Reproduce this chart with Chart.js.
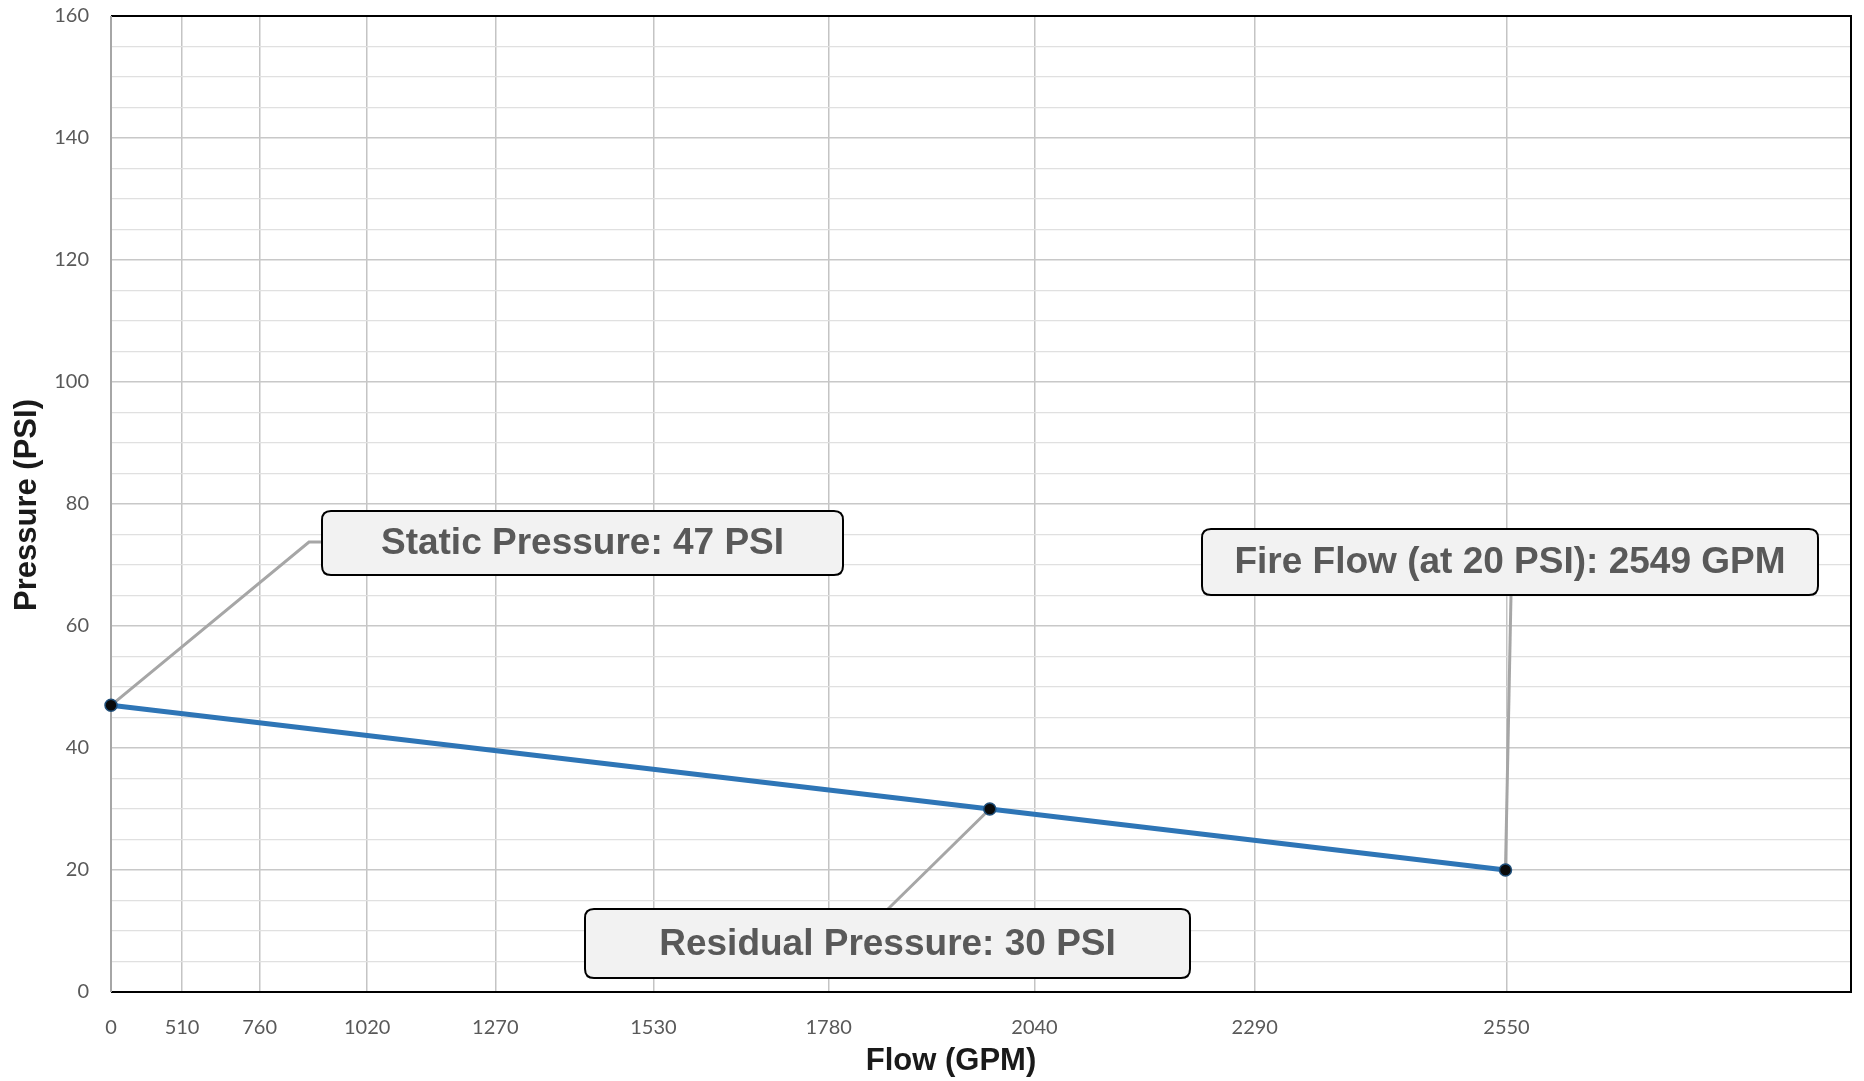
<!DOCTYPE html>
<html>
<head>
<meta charset="utf-8">
<script src="https://cdn.jsdelivr.net/npm/chart.js@4"></script>
<style>
    html, body { margin: 0; padding: 0; background: #ffffff; }
    #wrap { width: 1864px; height: 1081px; }
</style>
</head>
<body>
<div id="wrap"><canvas id="flowChart" width="1864" height="1081"></canvas></div>
<script>
// test data (flow in GPM, pressure in PSI)
const flowValues = [0, 1986, 2549];
const pressureValues = [47, 30, 20];
const flowTicks = [0, 510, 760, 1020, 1270, 1530, 1780, 2040, 2290, 2550];
const flowMax = 2873;
const pressureTicks = [0, 20, 40, 60, 80, 100, 120, 140, 160];

const callouts = [
    { text: "Static Pressure: 47 PSI", point: 0, box: [322, 511, 843, 575], path: [[309, 542], [322, 542]] },
    { text: "Residual Pressure: 30 PSI", point: 1, box: [585, 909, 1190, 978], path: [[888, 909]] },
    { text: "Fire Flow (at 20 PSI): 2549 GPM", point: 2, box: [1202, 529, 1818, 595], path: [[1511, 595]] }
];

// hydrant flow test paper: x axis is spaced by Q^1.85
class PowerScale extends Chart.LinearScale {
    getPixelForValue(value) {
        if (value === null || value === undefined) return NaN;
        const t = Math.pow(Math.max(value, 0), 1.85) / Math.pow(this.max, 1.85);
        return this.getPixelForDecimal(t);
    }
    getValueForPixel(pixel) {
        const d = Math.max(this.getDecimalForPixel(pixel), 0);
        return Math.pow(d, 1 / 1.85) * this.max;
    }
}
PowerScale.id = "power";
PowerScale.defaults = Chart.LinearScale.defaults;
Chart.register(PowerScale);

function roundRect(ctx, x1, y1, x2, y2, r) {
    ctx.beginPath();
    ctx.moveTo(x1 + r, y1);
    ctx.lineTo(x2 - r, y1);
    ctx.quadraticCurveTo(x2, y1, x2, y1 + r);
    ctx.lineTo(x2, y2 - r);
    ctx.quadraticCurveTo(x2, y2, x2 - r, y2);
    ctx.lineTo(x1 + r, y2);
    ctx.quadraticCurveTo(x1, y2, x1, y2 - r);
    ctx.lineTo(x1, y1 + r);
    ctx.quadraticCurveTo(x1, y1, x1 + r, y1);
    ctx.closePath();
}

const decorPlugin = {
    id: "decor",
    beforeDatasetsDraw(chart) {
        const { ctx, chartArea: a, scales } = chart;
        ctx.save();
        // plot frame
        ctx.strokeStyle = "#000000";
        ctx.lineWidth = 2;
        ctx.beginPath();
        ctx.moveTo(a.left, a.top);
        ctx.lineTo(a.right, a.top);
        ctx.lineTo(a.right, a.bottom);
        ctx.lineTo(a.left, a.bottom);
        ctx.stroke();
        ctx.strokeStyle = "#a6a6a6";
        ctx.beginPath();
        ctx.moveTo(a.left, a.top);
        ctx.lineTo(a.left, a.bottom);
        ctx.stroke();

        // leader lines
        ctx.strokeStyle = "#a6a6a6";
        ctx.lineWidth = 3;
        callouts.forEach(c => {
            const px = scales.x.getPixelForValue(flowValues[c.point]);
            const py = scales.y.getPixelForValue(pressureValues[c.point]);
            ctx.beginPath();
            ctx.moveTo(px, py);
            c.path.forEach(p => ctx.lineTo(p[0], p[1]));
            ctx.stroke();
        });
        ctx.restore();
    },
    afterDatasetsDraw(chart) {
        const { ctx } = chart;
        ctx.save();
        callouts.forEach(c => {
            const [x1, y1, x2, y2] = c.box;
            roundRect(ctx, x1, y1, x2, y2, 9);
            ctx.fillStyle = "#f2f2f2";
            ctx.fill();
            ctx.strokeStyle = "#000000";
            ctx.lineWidth = 2;
            ctx.stroke();
            ctx.fillStyle = "#595959";
            ctx.font = "bold 37px 'Liberation Sans', Arial, sans-serif";
            ctx.textAlign = "center";
            ctx.textBaseline = "middle";
            ctx.fillText(c.text, (x1 + x2) / 2, (y1 + y2) / 2 + 1);
        });

        // axis titles
        ctx.fillStyle = "#1a1a1a";
        ctx.font = "bold 31px 'Liberation Sans', Arial, sans-serif";
        ctx.textAlign = "center";
        ctx.textBaseline = "middle";
        ctx.fillText("Flow (GPM)", 951, 1061);
        ctx.translate(27, 505);
        ctx.rotate(-Math.PI / 2);
        ctx.fillText("Pressure (PSI)", 0, 0);
        ctx.restore();
    }
};

const tickFont = { family: "Lato, 'Open Sans', sans-serif", size: 20 };

new Chart(document.getElementById("flowChart"), {
    type: "line",
    data: {
        datasets: [{
            data: flowValues.map((x, i) => ({ x: x, y: pressureValues[i] })),
            borderColor: "#2e75b6",
            borderWidth: 5,
            pointRadius: 6,
            pointBackgroundColor: "#0a0a0a",
            pointBorderColor: "#1f4e79",
            pointBorderWidth: 1.5,
            tension: 0,
            clip: false
        }]
    },
    options: {
        responsive: false,
        animation: false,
        events: [],
        layout: { padding: { top: 16, right: 13, left: 0, bottom: 0 } },
        plugins: { legend: { display: false }, tooltip: { enabled: false } },
        scales: {
            x: {
                type: "power",
                min: 0,
                max: flowMax,
                afterFit: s => { s.height = 89; },
                afterBuildTicks: s => { s.ticks = flowTicks.map(v => ({ value: v })); },
                border: { display: false },
                grid: { color: "#c4c4c4", lineWidth: 1.5, drawTicks: false },
                ticks: {
                    autoSkip: false,
                    maxRotation: 0,
                    padding: 24,
                    color: "#595959",
                    font: tickFont,
                    callback: v => String(v)
                }
            },
            y: {
                min: pressureTicks[0],
                max: pressureTicks[pressureTicks.length - 1],
                afterFit: s => { s.width = 111; s.paddingTop = 0; },
                border: { display: false },
                grid: {
                    drawTicks: false,
                    color: c => (c.tick && c.tick.value % 20 === 0) ? "#c8c8c8" : "#e0e0e0",
                    lineWidth: c => (c.tick && c.tick.value % 20 === 0) ? 1.5 : 1.2
                },
                ticks: {
                    stepSize: 5,
                    autoSkip: false,
                    padding: 22,
                    color: "#595959",
                    font: tickFont,
                    callback: v => pressureTicks.includes(v) ? String(v) : ""
                }
            }
        }
    },
    plugins: [decorPlugin]
});
</script>
</body>
</html>
